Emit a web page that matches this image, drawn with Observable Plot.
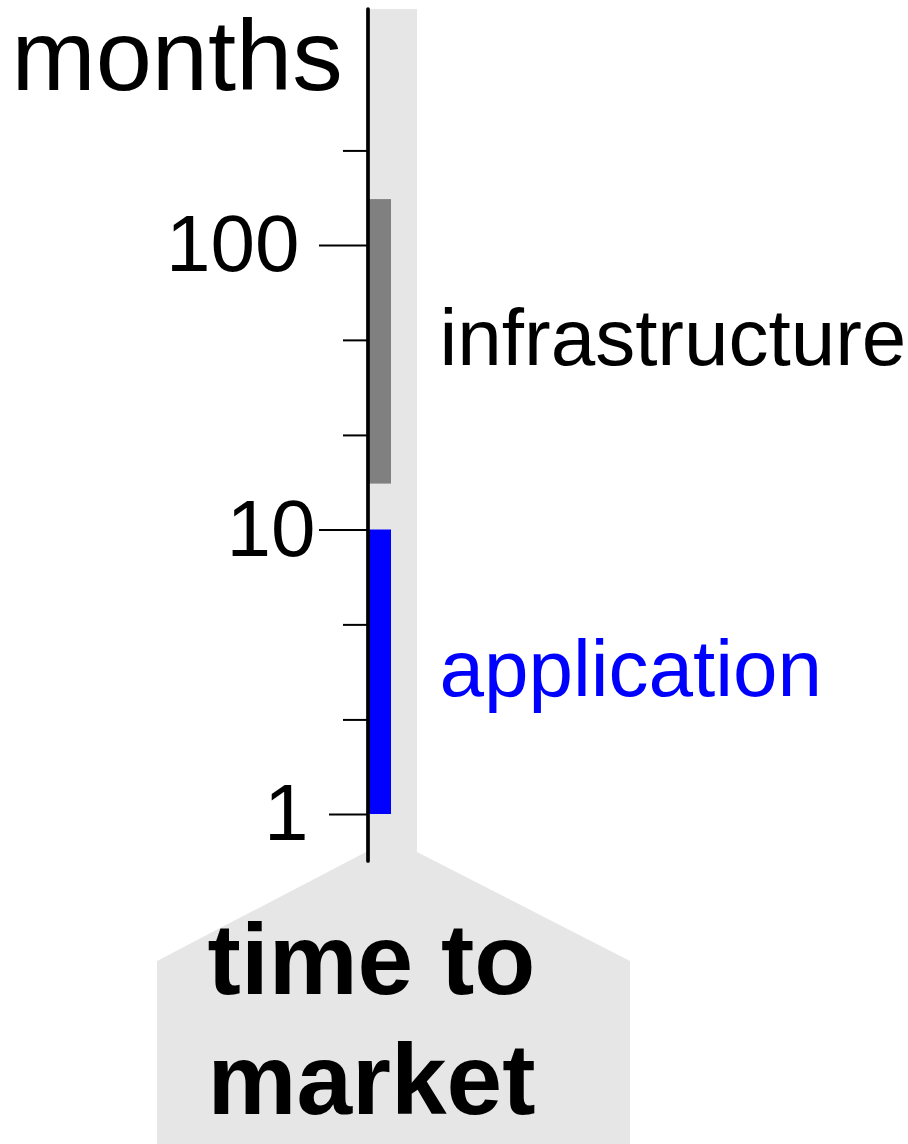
<!DOCTYPE html>
<html>
<head>
<meta charset="utf-8">
<script src="https://cdn.jsdelivr.net/npm/d3@7"></script>
<script src="https://cdn.jsdelivr.net/npm/@observablehq/plot@0.6"></script>
<style>
  html, body { margin: 0; padding: 0; background: #fff; }
  #chart svg { display: block; }
</style>
</head>
<body>
<div id="chart"></div>
<script>
// ---- data ----
const column = "time to market";
const categories = ["application", "infrastructure"];
const lowMonths = [1, 14.5];
const highMonths = [10, 145];
const majorTicks = [1, 10, 100];
const majorTickLabels = ["1", "10", "100"];
const minorTicks = [2.15, 4.64, 21.5, 46.4, 215];
const axisLabel = "months";

const bars = categories.map((category, i) => ({
  column, category, low: lowMonths[i], high: highMonths[i]
}));

// ---- styling / layout ----
const W = 908, H = 1144;
const ML = 368, MT = 9, MB = 283;
const FONT = "'Liberation Sans', Arial, Helvetica, sans-serif";
const barColors = ["#0000ff", "#808080"];
const labelColors = {application: "#0000ff", infrastructure: "#000000"};
const majorTickStyle = {1: {size: 39, padding: 21}, 10: {size: 49, padding: 4}, 100: {size: 49, padding: 20}};

function backdrop(index, scales, values, dims) {
  const x0 = dims.marginLeft - 2, x1 = dims.marginLeft + 49;
  const yJoin = 852, yShoulder = 961, xl = 157, xr = 630;
  return d3.create("svg:path")
    .attr("d", `M${x0},${dims.marginTop}H${x1}V${yJoin}L${xr},${yShoulder}V${dims.height}H${xl}V${yShoulder}L${x0},${yJoin}Z`)
    .attr("fill", "#e6e6e6")
    .node();
}

function axisLine(index, scales, values, dims) {
  return d3.create("svg:line")
    .attr("x1", dims.marginLeft).attr("x2", dims.marginLeft)
    .attr("y1", dims.marginTop).attr("y2", dims.height - dims.marginBottom)
    .attr("stroke", "#000").attr("stroke-width", 3.7).attr("stroke-linecap", "round")
    .node();
}

const chart = Plot.plot({
  width: W,
  height: H,
  marginLeft: ML,
  marginTop: MT,
  marginBottom: MB,
  marginRight: 0,
  style: {fontFamily: FONT, background: "#fff", color: "#000"},
  x: {type: "band", domain: [column], range: [369, 391], padding: 0, axis: null},
  y: {type: "log", domain: [1, 100], range: [814, 245], label: null},
  color: {domain: categories, range: barColors},
  marks: [
    backdrop,
    Plot.barY(bars, {x: "column", y1: "low", y2: "high", fill: "category"}),
    ...categories.map(cat => Plot.text(bars.filter(d => d.category === cat), {
      x: "column",
      y: d => Math.sqrt(d.low * d.high),
      text: "category",
      textAnchor: "start",
      dx: 59,
      dy: -2,
      fontSize: 80,
      fill: labelColors[cat]
    })),
    Plot.axisY(minorTicks, {
      anchor: "left", tickSize: 25, tickFormat: () => "", strokeWidth: 2, label: null
    }),
    ...majorTicks.map((v, i) => Plot.axisY([v], {
      anchor: "left",
      tickSize: majorTickStyle[v].size,
      tickPadding: majorTickStyle[v].padding,
      tickFormat: () => majorTickLabels[i],
      fontSize: 80,
      strokeWidth: 2,
      label: null
    })),
    axisLine,
    Plot.text([axisLabel], {
      frameAnchor: "top-left",
      text: d => d,
      textAnchor: "start",
      lineAnchor: "bottom",
      dx: 11 - ML,
      dy: 89 - MT,
      fontSize: 101
    }),
    Plot.text([column], {
      x: d => d,
      frameAnchor: "bottom",
      text: d => d.replace(/ (\S+)$/, "\n$1"),
      textAnchor: "middle",
      lineAnchor: "bottom",
      lineHeight: 1.2,
      dx: -9,
      dy: 252,
      fontSize: 100,
      fontWeight: "bold"
    })
  ]
});

document.getElementById("chart").appendChild(chart);
</script>
</body>
</html>
